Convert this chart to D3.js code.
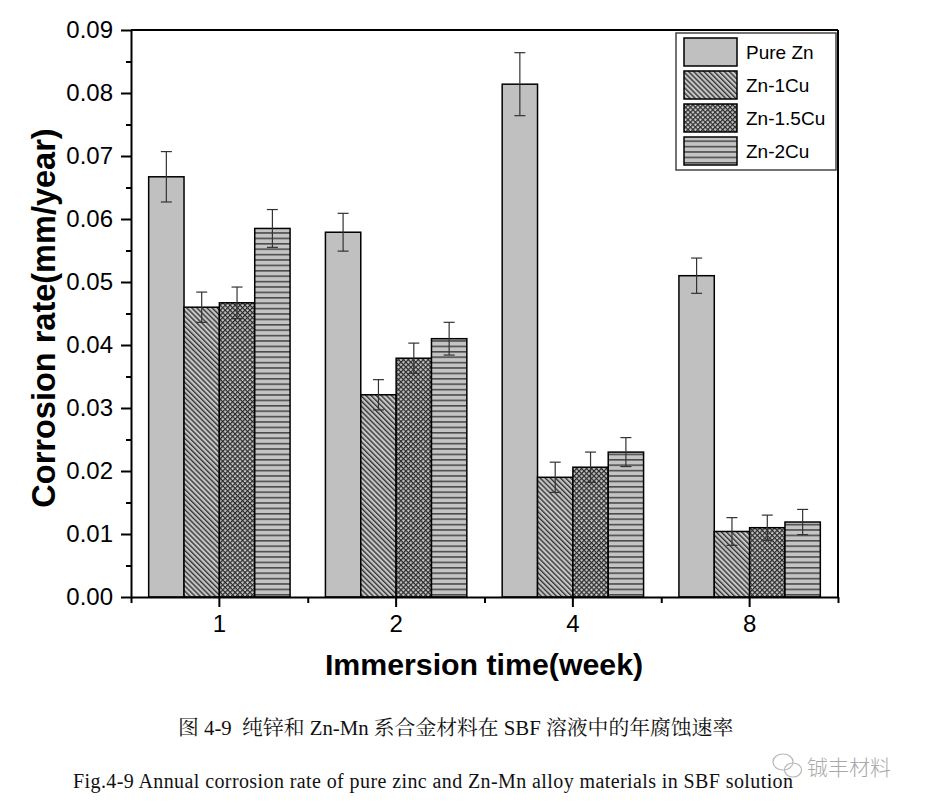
<!DOCTYPE html>
<html><head><meta charset="utf-8">
<script src="https://cdn.jsdelivr.net/npm/d3@7/dist/d3.min.js"></script>
<style>body{margin:0;background:#fff} svg{display:block}</style>
</head><body>
<svg id="c" width="925" height="805"></svg>
<script>
const categories = ["1", "2", "4", "8"];
const seriesNames = ["Pure Zn", "Zn-1Cu", "Zn-1.5Cu", "Zn-2Cu"];
const pureZn      = [0.0667, 0.0579, 0.0814, 0.0510];
const pureZnErr   = [0.0040, 0.0030, 0.0050, 0.0028];
const zn1Cu       = [0.0460, 0.0321, 0.0190, 0.0104];
const zn1CuErr    = [0.0024, 0.0024, 0.0024, 0.0022];
const zn15Cu      = [0.0467, 0.0379, 0.0206, 0.0110];
const zn15CuErr   = [0.0025, 0.0024, 0.0024, 0.0020];
const zn2Cu       = [0.0585, 0.0410, 0.0230, 0.0119];
const zn2CuErr    = [0.0030, 0.0026, 0.0023, 0.0020];
const yTicks      = [0, 0.01, 0.02, 0.03, 0.04, 0.05, 0.06, 0.07, 0.08, 0.09];
const yMinorTicks = [0.005, 0.015, 0.025, 0.035, 0.045, 0.055, 0.065, 0.075, 0.085];
const yTitle = "Corrosion rate(mm/year)";
const xTitle = "Immersion time(week)";
const captionCN = "图 4-9  纯锌和 Zn-Mn 系合金材料在 SBF 溶液中的年腐蚀速率";
const captionEN = "Fig.4-9 Annual corrosion rate of pure zinc and Zn-Mn alloy materials in SBF solution";
const watermark = "铖丰材料";

const values = [pureZn, zn1Cu, zn15Cu, zn2Cu];
const errors = [pureZnErr, zn1CuErr, zn15CuErr, zn2CuErr];
const fills = ["#c0c0c0", "url(#pDiag)", "url(#pCross)", "url(#pHoriz)"];

const svg = d3.select("#c");
const L = 131, R = 838, T = 30, B = 597;

// patterns
const defs = svg.append("defs");
const pd = defs.append("pattern").attr("id", "pDiag").attr("patternUnits", "userSpaceOnUse")
  .attr("width", 3.6).attr("height", 10).attr("patternTransform", "rotate(-45)");
pd.append("rect").attr("width", 3.6).attr("height", 10).attr("fill", "#c6c6c6");
pd.append("line").attr("x1", 0.7).attr("x2", 0.7).attr("y1", 0).attr("y2", 10).attr("stroke", "#2a2a2a").attr("stroke-width", 1.3);

const pc = defs.append("pattern").attr("id", "pCross").attr("patternUnits", "userSpaceOnUse")
  .attr("width", 3.5).attr("height", 3.5).attr("patternTransform", "rotate(45)");
pc.append("rect").attr("width", 3.5).attr("height", 3.5).attr("fill", "#c6c6c6");
pc.append("line").attr("x1", 0.6).attr("x2", 0.6).attr("y1", 0).attr("y2", 3.5).attr("stroke", "#2a2a2a").attr("stroke-width", 1.2);
pc.append("line").attr("y1", 0.6).attr("y2", 0.6).attr("x1", 0).attr("x2", 3.5).attr("stroke", "#2a2a2a").attr("stroke-width", 1.2);

const ph = defs.append("pattern").attr("id", "pHoriz").attr("patternUnits", "userSpaceOnUse")
  .attr("width", 10).attr("height", 5.4);
ph.append("rect").attr("width", 10).attr("height", 5.4).attr("fill", "#c4c4c4");
ph.append("line").attr("x1", 0).attr("x2", 10).attr("y1", 0.8).attr("y2", 0.8).attr("stroke", "#3a3a3a").attr("stroke-width", 1.4);

// scales
const x0 = d3.scaleBand().domain(categories).range([L, R]).padding(0);
const x1 = d3.scaleBand().domain(seriesNames).range([0, x0.bandwidth()]).paddingInner(0).paddingOuter(0.5);
const y = d3.scaleLinear().domain([0, 0.09]).range([B, T]);
const xEdge = d3.scaleLinear().domain([0, categories.length]).range([L, R]);

// bars
seriesNames.forEach((s, si) => {
  const g = svg.append("g");
  categories.forEach((c, ci) => {
    const v = values[si][ci];
    g.append("rect")
      .attr("x", x0(c) + x1(s)).attr("y", y(v))
      .attr("width", x1.bandwidth()).attr("height", y(0) - y(v))
      .attr("fill", fills[si]).attr("stroke", "#000").attr("stroke-width", 1.5);
  });
});
// error bars
seriesNames.forEach((s, si) => {
  categories.forEach((c, ci) => {
    const v = values[si][ci], e = errors[si][ci];
    const cx = x0(c) + x1(s) + x1.bandwidth() / 2;
    const g = svg.append("g").attr("stroke", "#333").attr("stroke-width", 1.2);
    g.append("line").attr("x1", cx).attr("x2", cx).attr("y1", y(v + e)).attr("y2", y(v - e));
    g.append("line").attr("x1", cx - 5.5).attr("x2", cx + 5.5).attr("y1", y(v + e)).attr("y2", y(v + e));
    g.append("line").attr("x1", cx - 5.5).attr("x2", cx + 5.5).attr("y1", y(v - e)).attr("y2", y(v - e));
  });
});

// frame top/right
svg.append("line").attr("x1", L).attr("x2", R).attr("y1", T).attr("y2", T).attr("stroke", "#000").attr("stroke-width", 2);
svg.append("line").attr("x1", R).attr("x2", R).attr("y1", T).attr("y2", B).attr("stroke", "#000").attr("stroke-width", 2);

// y axis
const yAx = svg.append("g").attr("transform", `translate(${L},0)`)
  .call(d3.axisLeft(y).tickValues(yTicks).tickFormat(d3.format(".2f")).tickSize(10).tickPadding(8).tickSizeOuter(0));
yAx.selectAll("text").attr("font-family", "Liberation Sans, Arial, sans-serif").attr("font-size", 24).attr("fill", "#000");
svg.append("g").attr("transform", `translate(${L},0)`)
  .call(d3.axisLeft(y).tickValues(yMinorTicks).tickFormat("").tickSize(5).tickSizeOuter(0))
  .select(".domain").remove();

// x axis
const xAx = svg.append("g").attr("transform", `translate(0,${B})`)
  .call(d3.axisBottom(x0).tickSize(10).tickPadding(8).tickSizeOuter(0));
xAx.selectAll("text").attr("font-family", "Liberation Sans, Arial, sans-serif").attr("font-size", 24).attr("fill", "#000");
svg.append("g").attr("transform", `translate(0,${B})`)
  .call(d3.axisBottom(xEdge).tickValues(d3.range(categories.length + 1)).tickFormat("").tickSize(6).tickSizeOuter(0))
  .select(".domain").remove();

svg.selectAll(".domain").attr("stroke-width", 2);
svg.selectAll(".tick line").attr("stroke-width", 2);

// titles
svg.append("text").attr("transform", "translate(55,318) rotate(-90)")
  .attr("text-anchor", "middle").attr("font-family", "Liberation Sans, Arial, sans-serif")
  .attr("font-weight", "bold").attr("font-size", 32.5).text(yTitle);
svg.append("text").attr("x", 484).attr("y", 675)
  .attr("text-anchor", "middle").attr("font-family", "Liberation Sans, Arial, sans-serif")
  .attr("font-weight", "bold").attr("font-size", 30.3).text(xTitle);

// legend
const lg = svg.append("g");
lg.append("rect").attr("x", 676).attr("y", 33).attr("width", 160).attr("height", 137)
  .attr("fill", "#fff").attr("stroke", "#444").attr("stroke-width", 1.5);
seriesNames.forEach((s, i) => {
  lg.append("rect").attr("x", 684).attr("y", 38 + i * 33).attr("width", 53).attr("height", 28)
    .attr("fill", fills[i]).attr("stroke", "#000").attr("stroke-width", 1.5);
  lg.append("text").attr("x", 746).attr("y", 59 + i * 33)
    .attr("font-family", "Liberation Sans, Arial, sans-serif").attr("font-size", 19).text(s);
});

// captions
svg.append("text").attr("x", 178).attr("y", 735)
  .attr("font-family", "Liberation Serif, 'Times New Roman', 'Noto Serif CJK SC', 'Noto Sans CJK SC', serif")
  .attr("font-size", 20.8).attr("fill", "#111").style("white-space", "pre").text(captionCN);
svg.append("text").attr("x", 73).attr("y", 788).attr("textLength", 720).attr("lengthAdjust", "spacing")
  .attr("font-family", "Liberation Serif, 'Times New Roman', serif")
  .attr("font-size", 20).attr("fill", "#111").text(captionEN);

// watermark
const wm = svg.append("g").attr("fill", "none").attr("stroke", "#b8b8b8").attr("stroke-width", 1.2);
wm.append("ellipse").attr("cx", 783).attr("cy", 762).attr("rx", 10).attr("ry", 8);
wm.append("ellipse").attr("cx", 793).attr("cy", 770).attr("rx", 8.5).attr("ry", 7);
svg.append("text").attr("x", 807).attr("y", 775)
  .attr("font-family", "'Noto Sans CJK SC', sans-serif").attr("font-weight", 300)
  .attr("font-size", 21).attr("fill", "#a8a8a8").text(watermark);
</script>
</body></html>
